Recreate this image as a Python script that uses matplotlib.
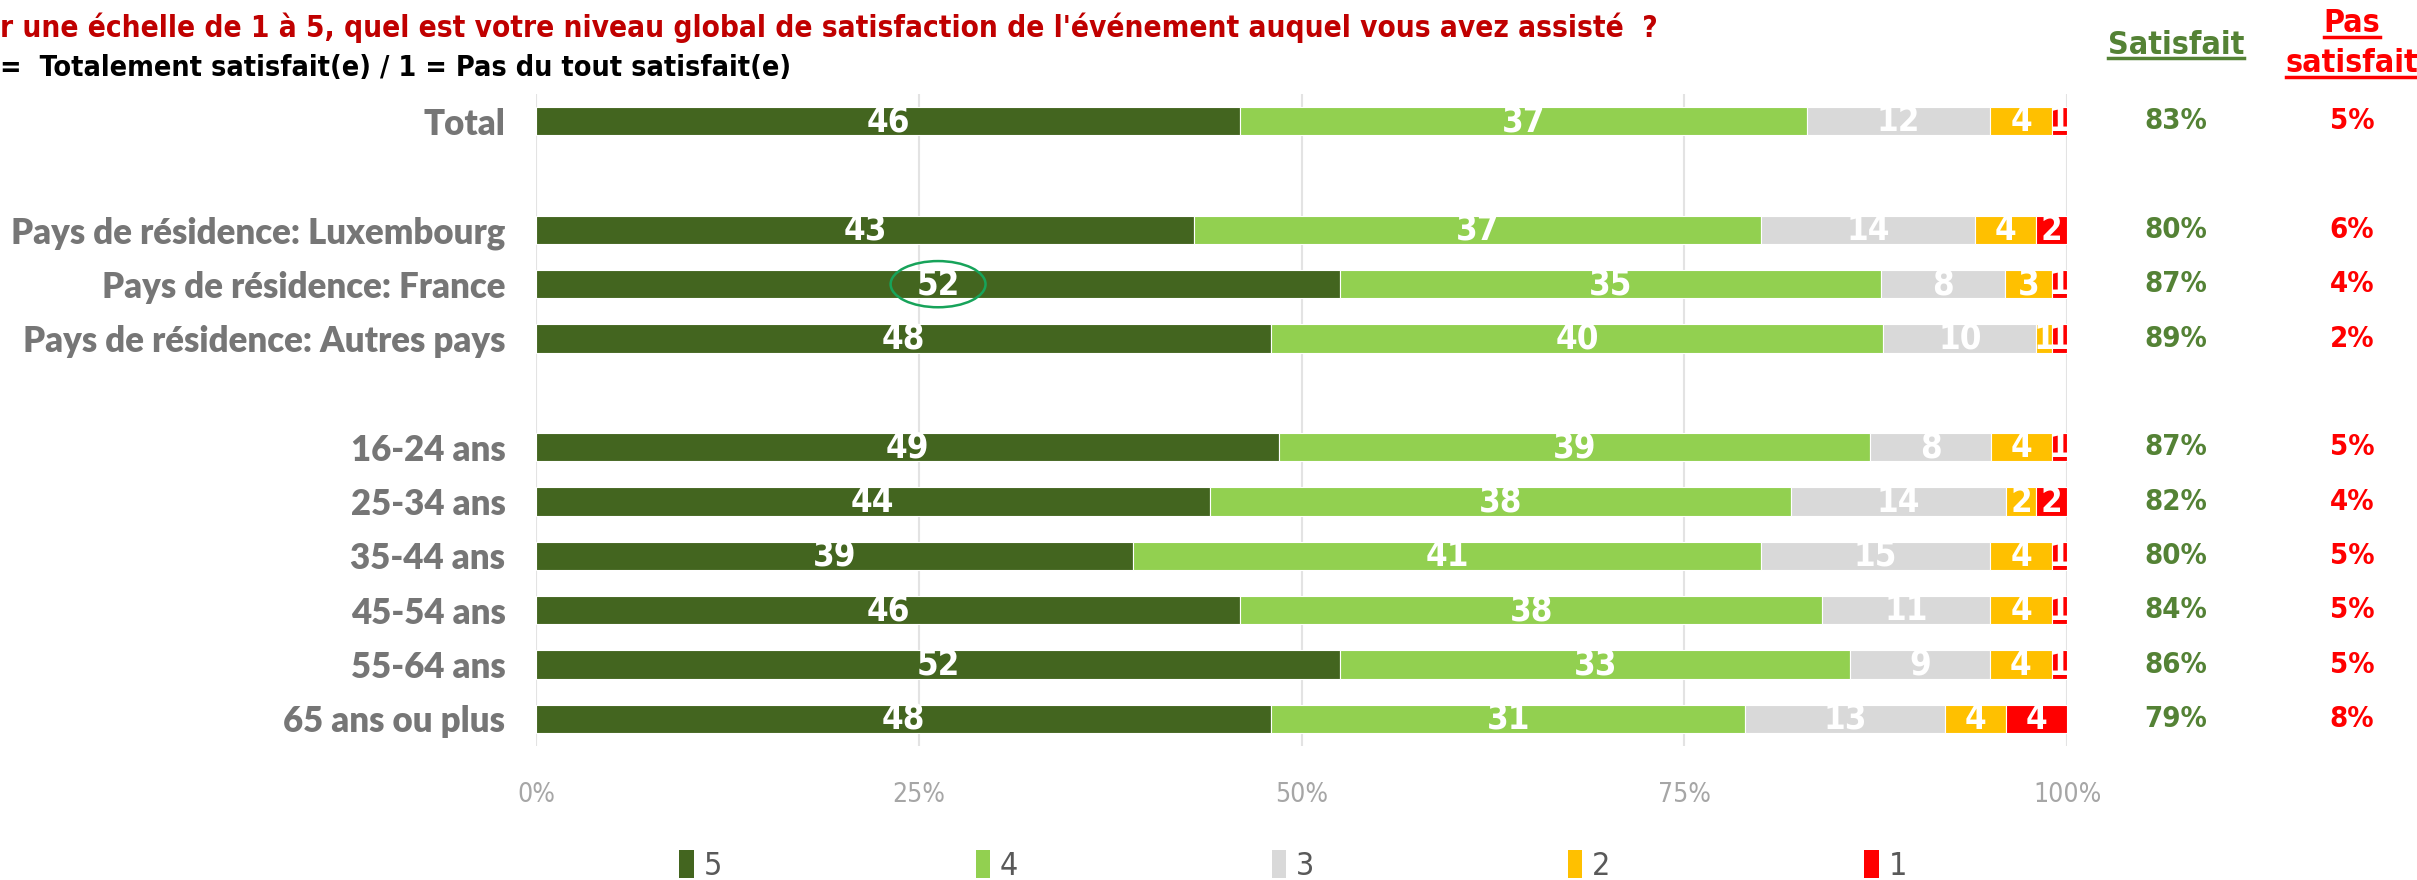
import numpy as np
import matplotlib
matplotlib.use('Agg')
import matplotlib.pyplot as plt
import matplotlib.transforms as mtransforms
from matplotlib import font_manager
from matplotlib.patches import Ellipse, Patch
from matplotlib.lines import Line2D

# ---- données ----
labels = ['Total', 'Pays de résidence: Luxembourg', 'Pays de résidence: France',
          'Pays de résidence: Autres pays', '16-24 ans', '25-34 ans', '35-44 ans',
          '45-54 ans', '55-64 ans', '65 ans ou plus']
groups = [1, 3, 6]  # nombre de lignes par bloc
score5 = [46, 43, 52, 48, 49, 44, 39, 46, 52, 48]
score4 = [37, 37, 35, 40, 39, 38, 41, 38, 33, 31]
score3 = [12, 14, 8, 10, 8, 14, 15, 11, 9, 13]
score2 = [4, 4, 3, 1, 4, 2, 4, 4, 4, 4]
score1 = [1, 2, 1, 1, 1, 2, 1, 1, 1, 4]
satisfait = [83, 80, 87, 89, 87, 82, 80, 84, 86, 79]
pas_satisfait = [5, 6, 4, 2, 5, 4, 5, 5, 5, 8]
legend_labels = ['5', '4', '3', '2', '1']
xticks = [0, 25, 50, 75, 100]

colors = ['#43651F', '#92D050', '#D9D9D9', '#FFC000', '#FF0000']

# ---- polices ----
names = {f.name for f in font_manager.fontManager.ttflist}
narrow = 'Liberation Sans Narrow' if 'Liberation Sans Narrow' in names else 'DejaVu Sans'
stretch = 'normal' if narrow == 'Liberation Sans Narrow' else 'condensed'
calib = 'Lato' if 'Lato' in names else 'DejaVu Sans'

# positions verticales avec une ligne vide entre les blocs
ypos = []
slot = 0
for g in groups:
    for i in range(g):
        ypos.append(slot)
        slot += 1
    slot += 1

series = np.array([score5, score4, score3, score2, score1], dtype=float)
pct = series / series.sum(axis=0) * 100

W, H = 2417, 880
fig = plt.figure(figsize=(W / 100, H / 100), dpi=100)
ax = fig.add_axes([536 / W, 1 - 746 / H, (2067 - 536) / W, (746 - 94) / H])

left = np.zeros(len(labels))
for k in range(5):
    ax.barh(ypos, pct[k], left=left, height=0.52, color=colors[k],
            edgecolor='white', linewidth=0.8, label=legend_labels[k], zorder=3)
    for i in range(len(labels)):
        ax.text(left[i] + pct[k][i] / 2, ypos[i], str(int(series[k][i])),
                ha='center', va='center', color='white', fontsize=25,
                fontweight='bold', family=narrow, fontstretch=stretch, zorder=4)
    left += pct[k]

ax.set_xlim(0, 100)
ax.set_ylim(max(ypos) + 0.5, -0.5)
ax.set_xticks(xticks)
ax.set_xticklabels([f'{t}%' for t in xticks], color='#A6A6A6', fontsize=19,
                   family=narrow, fontstretch=stretch)
ax.set_yticks(ypos)
ax.set_yticklabels(labels, color='#767676', fontsize=25, fontweight='heavy', family=calib)
ax.tick_params(axis='x', length=0, pad=26)
ax.tick_params(axis='y', length=0, pad=22)
ax.grid(axis='x', color='#E3E3E3', linewidth=1.5, zorder=0)
for s in ax.spines.values():
    s.set_visible(False)

# cercle autour du 52 (France)
i_fr = 2
ax.add_patch(Ellipse((pct[0][i_fr] / 2, ypos[i_fr]), width=6.2, height=0.85,
                     fill=False, edgecolor='#17A35A', linewidth=1.8, zorder=5))

# colonnes de droite
tr = mtransforms.blended_transform_factory(fig.transFigure, ax.transData)
for i in range(len(labels)):
    fig.text(2176 / W, ypos[i], f'{satisfait[i]}%', transform=tr, ha='center', va='center',
             color='#548235', fontsize=21, fontweight='bold', family=narrow, fontstretch=stretch)
    fig.text(2352 / W, ypos[i], f'{pas_satisfait[i]}%', transform=tr, ha='center', va='center',
             color='#FF0000', fontsize=21, fontweight='bold', family=narrow, fontstretch=stretch)

h1 = fig.text(2176 / W, 1 - 45 / H, 'Satisfait', ha='center', va='center', color='#548235',
              fontsize=23, fontweight='bold', family=narrow, fontstretch=stretch)
h2 = fig.text(2352 / W, 1 - 24 / H, 'Pas', ha='center', va='center', color='#FF0000',
              fontsize=23, fontweight='bold', family=narrow, fontstretch=stretch)
h3 = fig.text(2352 / W, 1 - 64 / H, 'satisfait', ha='center', va='center', color='#FF0000',
              fontsize=23, fontweight='bold', family=narrow, fontstretch=stretch)

# titre
fig.text(0, 1 - 28 / H, "r une échelle de 1 à 5, quel est votre niveau global de satisfaction "
         "de l'événement auquel vous avez assisté  ?", ha='left', va='center',
         color='#C00000', fontsize=21.3, fontweight='bold', family=narrow, fontstretch=stretch)
fig.text(0, 1 - 68 / H, "=  Totalement satisfait(e) / 1 = Pas du tout satisfait(e)",
         ha='left', va='center', color='black', fontsize=20.6, fontweight='bold',
         family=narrow, fontstretch=stretch)

# légende
handles = [Patch(facecolor=c) for c in colors]
leg = fig.legend(handles, legend_labels, loc='center', bbox_to_anchor=(0.535, 1 - 866 / H),
                 ncol=5, frameon=False, handlelength=0.45, handleheight=1.0,
                 handletextpad=0.3, columnspacing=7.95,
                 prop={'family': narrow, 'size': 23, 'stretch': stretch})
for t in leg.get_texts():
    t.set_color('#595959')

# soulignements des en-têtes
fig.canvas.draw()
r = fig.canvas.get_renderer()
for t, c in [(h1, '#548235'), (h2, '#FF0000'), (h3, '#FF0000')]:
    bb = t.get_window_extent(r)
    yb = (bb.y0 + 2) / fig.bbox.height
    fig.add_artist(Line2D([bb.x0 / fig.bbox.width, bb.x1 / fig.bbox.width], [yb, yb],
                          transform=fig.transFigure, color=c, linewidth=2.5))

fig.savefig('out.png', dpi=100)
